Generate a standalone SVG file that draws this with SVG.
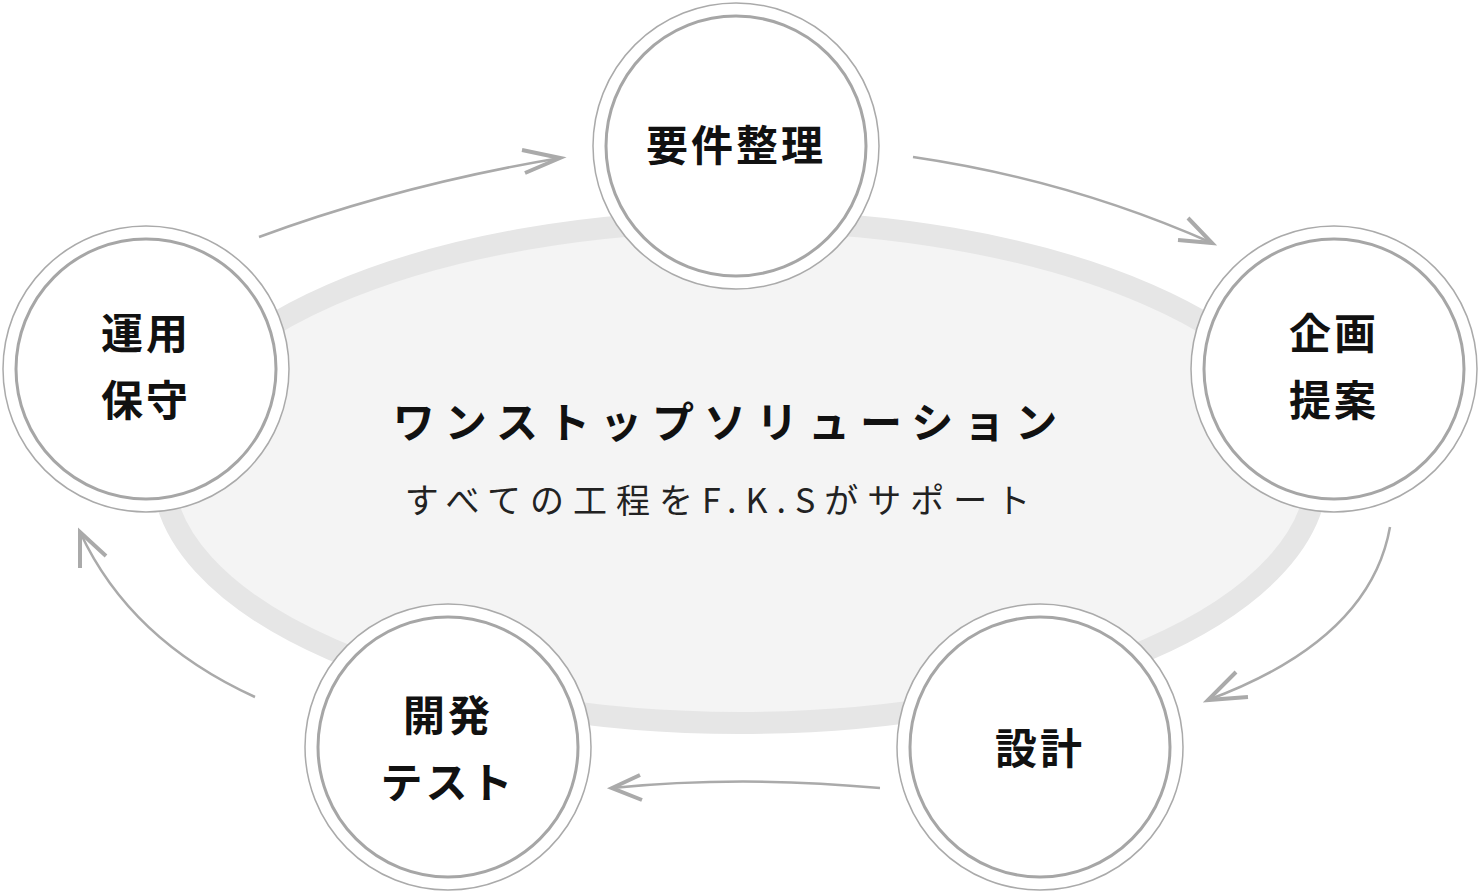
<svg xmlns="http://www.w3.org/2000/svg" width="1480" height="892" viewBox="0 0 1480 892">
<style>
.o{fill:#fff;stroke:#aaa;stroke-width:1.5}
.i{fill:#fff;stroke:#a6a6a6;stroke-width:3}
.t{font-family:"Noto Sans CJK JP",sans-serif;font-weight:700;font-size:42px;fill:#111;text-anchor:middle;letter-spacing:3px}
.c{fill:none;stroke:#aaa;stroke-width:2.5}
.h{fill:none;stroke:#aaa;stroke-width:4}
</style>
<rect width="1480" height="892" fill="#fff"/>
<ellipse cx="740" cy="472" rx="577" ry="251" fill="#f4f4f4" stroke="#e6e6e6" stroke-width="22"/>
<text x="730" y="438" font-family="'Noto Sans CJK JP',sans-serif" font-weight="700" font-size="42" fill="#111" text-anchor="middle" letter-spacing="10">ワンストップソリューション</text>
<text x="722" y="513" font-family="'Noto Sans CJK JP',sans-serif" font-size="34" fill="#222" text-anchor="middle" letter-spacing="9">すべての工程をF.K.Sがサポート</text>
<g id="connectors">
<path class="c" d="M259 237 Q400 185 560 158"/><path class="h" d="M522 150 L560 158 L525 173"/>
<path class="c" d="M913 157 Q1070 180 1212 243"/><path class="h" d="M1188 218 L1212 243 L1178 240"/>
<path class="c" d="M1390 527 Q1370 640 1208 700"/><path class="h" d="M1236 672 L1208 700 L1248 697"/>
<path class="c" d="M880 788 Q740 775 612 788"/><path class="h" d="M640 775 L612 788 L642 800"/>
<path class="c" d="M255 697 Q130 640 80 532"/><path class="h" d="M80 568 L80 532 L106 556"/>
</g>
<g id="n1"><circle class="o" cx="736" cy="146" r="143"/><circle class="i" cx="736" cy="146" r="130"/><text class="t" x="736" y="161">要件整理</text></g>
<g id="n2"><circle class="o" cx="1334" cy="369" r="143"/><circle class="i" cx="1334" cy="369" r="130"/><text class="t" x="1334" y="349">企画</text><text class="t" x="1334" y="416">提案</text></g>
<g id="n3"><circle class="o" cx="1040" cy="747" r="143"/><circle class="i" cx="1040" cy="747" r="130"/><text class="t" x="1040" y="764">設計</text></g>
<g id="n4"><circle class="o" cx="448" cy="747" r="143"/><circle class="i" cx="448" cy="747" r="130"/><text class="t" x="448" y="731">開発</text><text class="t" x="448" y="798">テスト</text></g>
<g id="n5"><circle class="o" cx="146" cy="369" r="143"/><circle class="i" cx="146" cy="369" r="130"/><text class="t" x="146" y="349">運用</text><text class="t" x="146" y="416">保守</text></g>
</svg>
